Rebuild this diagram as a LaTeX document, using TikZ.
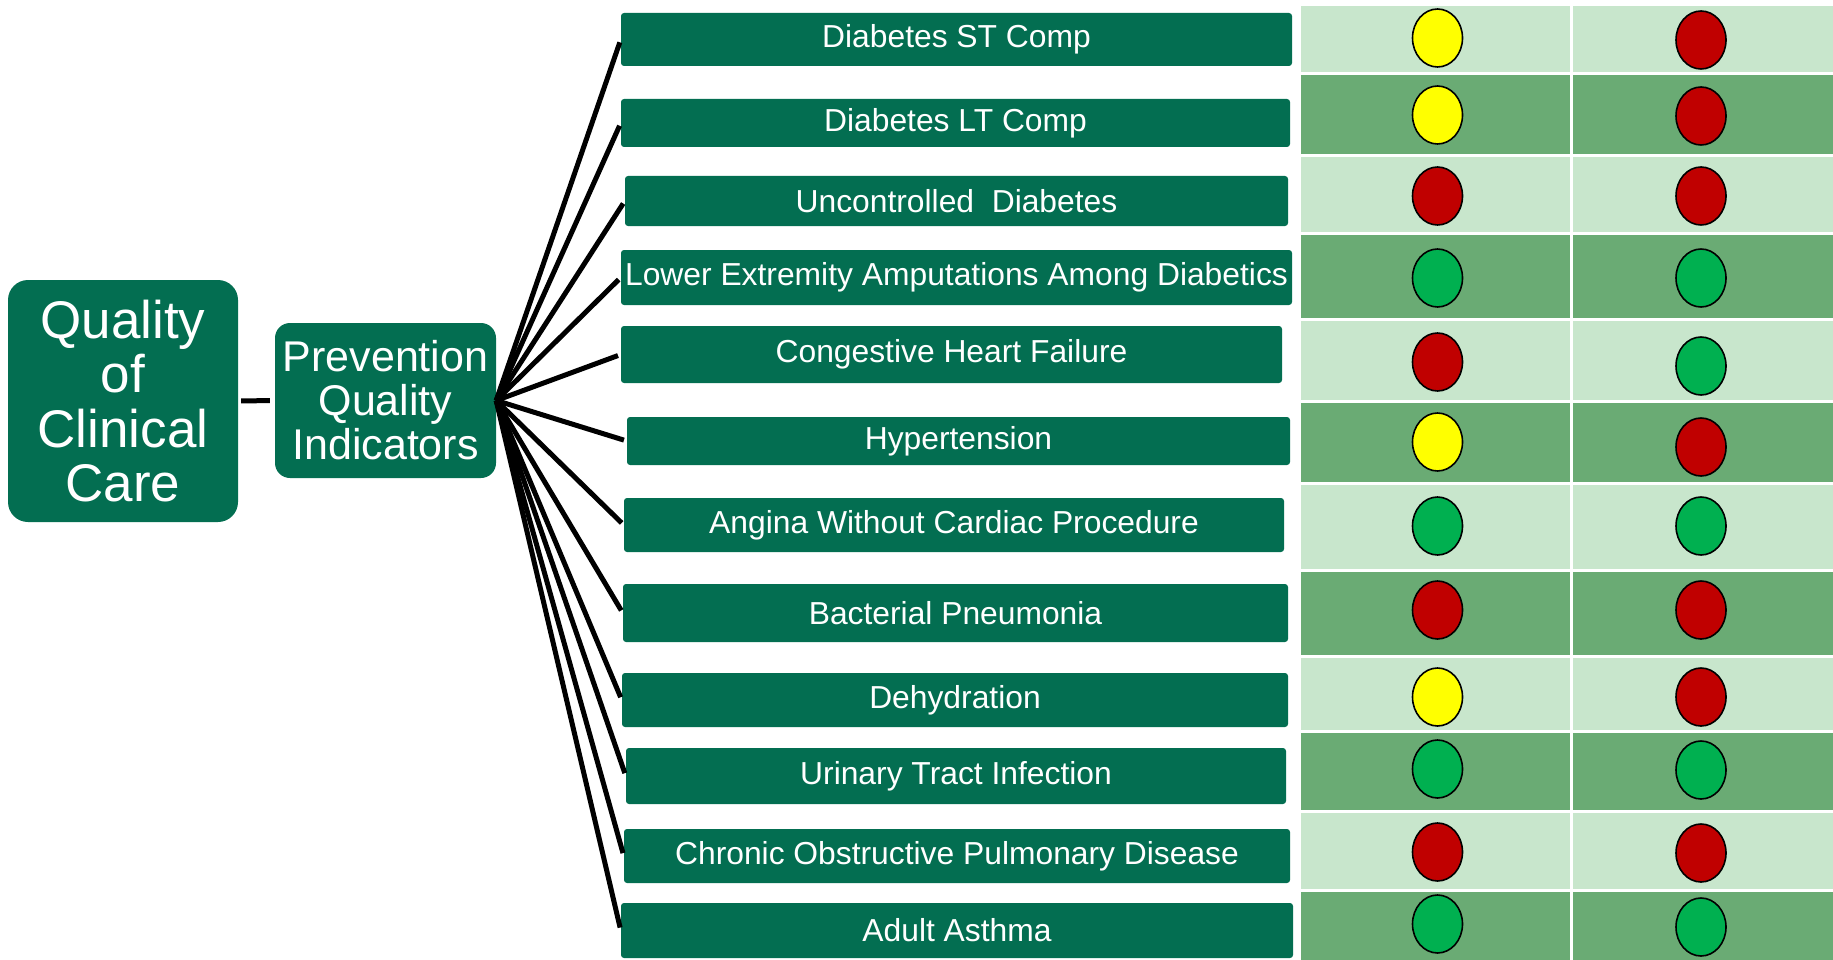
\documentclass[tikz,border=0pt]{standalone}
\usepackage{fontspec}
\setmainfont{Liberation Sans}

\definecolor{verdeescuro}{RGB}{3,110,81}
\definecolor{verdeclaro}{RGB}{200,230,204}
\definecolor{verdemedio}{RGB}{106,171,116}
\definecolor{sinalR}{RGB}{192,0,0}
\definecolor{sinalY}{RGB}{255,255,0}
\definecolor{sinalG}{RGB}{0,176,80}

\tikzset{
  bloco/.style={fill=verdeescuro, text=white, inner sep=0pt, align=center},
  caixa/.style={bloco, rounded corners=3pt, font=\fontsize{31.8}{36}\selectfont},
  ramo/.style={line width=5pt, shorten >=3pt},
  celula/.style={draw=white, line width=3pt},
  sinal/.style={draw=black, line width=1.6pt},
}

\begin{document}
\begin{tikzpicture}[x=1pt, y=-1pt]
  \useasboundingbox (0,0) rectangle (1833,960);

  % blocos da esquerda
  \node[bloco, minimum width=230pt, minimum height=242pt, rounded corners=20pt,
        font=\fontsize{53}{54.5}\selectfont] (qcc) at (123,401) {Quality\\of\\Clinical\\Care};
  \node[bloco, minimum width=221pt, minimum height=155pt, rounded corners=15pt,
        font=\fontsize{43}{44}\selectfont] (pqi) at (385.5,400.5) {Prevention\\Quality\\Indicators};
  \draw[line width=5pt, shorten <=3pt, shorten >=5pt] (qcc.east) -- (pqi.west);

  % indicadores (centro x, centro y, largura, altura)
  \foreach \n/\cx/\cy/\w/\h/\txt in {
      1/956.5/39.5/671/53/Diabetes ST Comp,
      2/955.5/123/669/48/Diabetes LT Comp,
      3/956.5/201/663/50/Uncontrolled\ \ Diabetes,
      4/956.5/277.5/671/55/Lower Extremity Amputations Among Diabetics,
      5/951.5/354.5/661/57/Congestive Heart Failure,
      6/958.5/441/663/48/Hypertension,
      7/954/525/660/54/Angina Without Cardiac Procedure,
      8/955.5/613/665/58/Bacterial Pneumonia,
      9/955/700/666/54/Dehydration,
      10/956/776/660/56/Urinary Tract Infection,
      11/957/856/666/54/Chronic Obstructive Pulmonary Disease,
      12/957/930.5/672/55/Adult Asthma}
    \node[caixa, minimum width=\w pt, minimum height=\h pt] (ind\n) at (\cx,\cy) {\txt};

  % leque de ligacoes
  \foreach \n in {1,...,12}
    \draw[ramo] (pqi.east) -- (ind\n.west);

  % tabela de sinais (topo, base, fundo, cor 1, cor 2, y 1, y 2)
  \foreach \t/\b/\fundo/\ca/\cb/\ya/\yb in {
      4.5/74/verdeclaro/sinalY/sinalR/38/40,
      74/155.5/verdemedio/sinalY/sinalR/115/116,
      155.5/233.5/verdeclaro/sinalR/sinalR/196/196,
      233.5/319.5/verdemedio/sinalG/sinalG/278/278,
      319.5/401.5/verdeclaro/sinalR/sinalG/362/366,
      401.5/483.5/verdemedio/sinalY/sinalR/442/447,
      483.5/570/verdeclaro/sinalG/sinalG/526/526,
      570/656.5/verdemedio/sinalR/sinalR/610/610,
      656.5/731.5/verdeclaro/sinalY/sinalR/697/697,
      731.5/811.5/verdemedio/sinalG/sinalG/769/770,
      811.5/890.5/verdeclaro/sinalR/sinalR/852/853,
      890.5/963/verdemedio/sinalG/sinalG/924/927} {
    \fill[fill=\fundo] (1299.5,\t) rectangle (1571,\b);
    \fill[fill=\fundo] (1571,\t) rectangle (1836,\b);
    \draw[celula] (1299.5,\t) rectangle (1571,\b);
    \draw[celula] (1571,\t) rectangle (1836,\b);
    \draw[sinal, fill=\ca] (1437.5,\ya) ellipse (25 and 29);
    \draw[sinal, fill=\cb] (1701,\yb) ellipse (25 and 29);
  }
\end{tikzpicture}
\end{document}
